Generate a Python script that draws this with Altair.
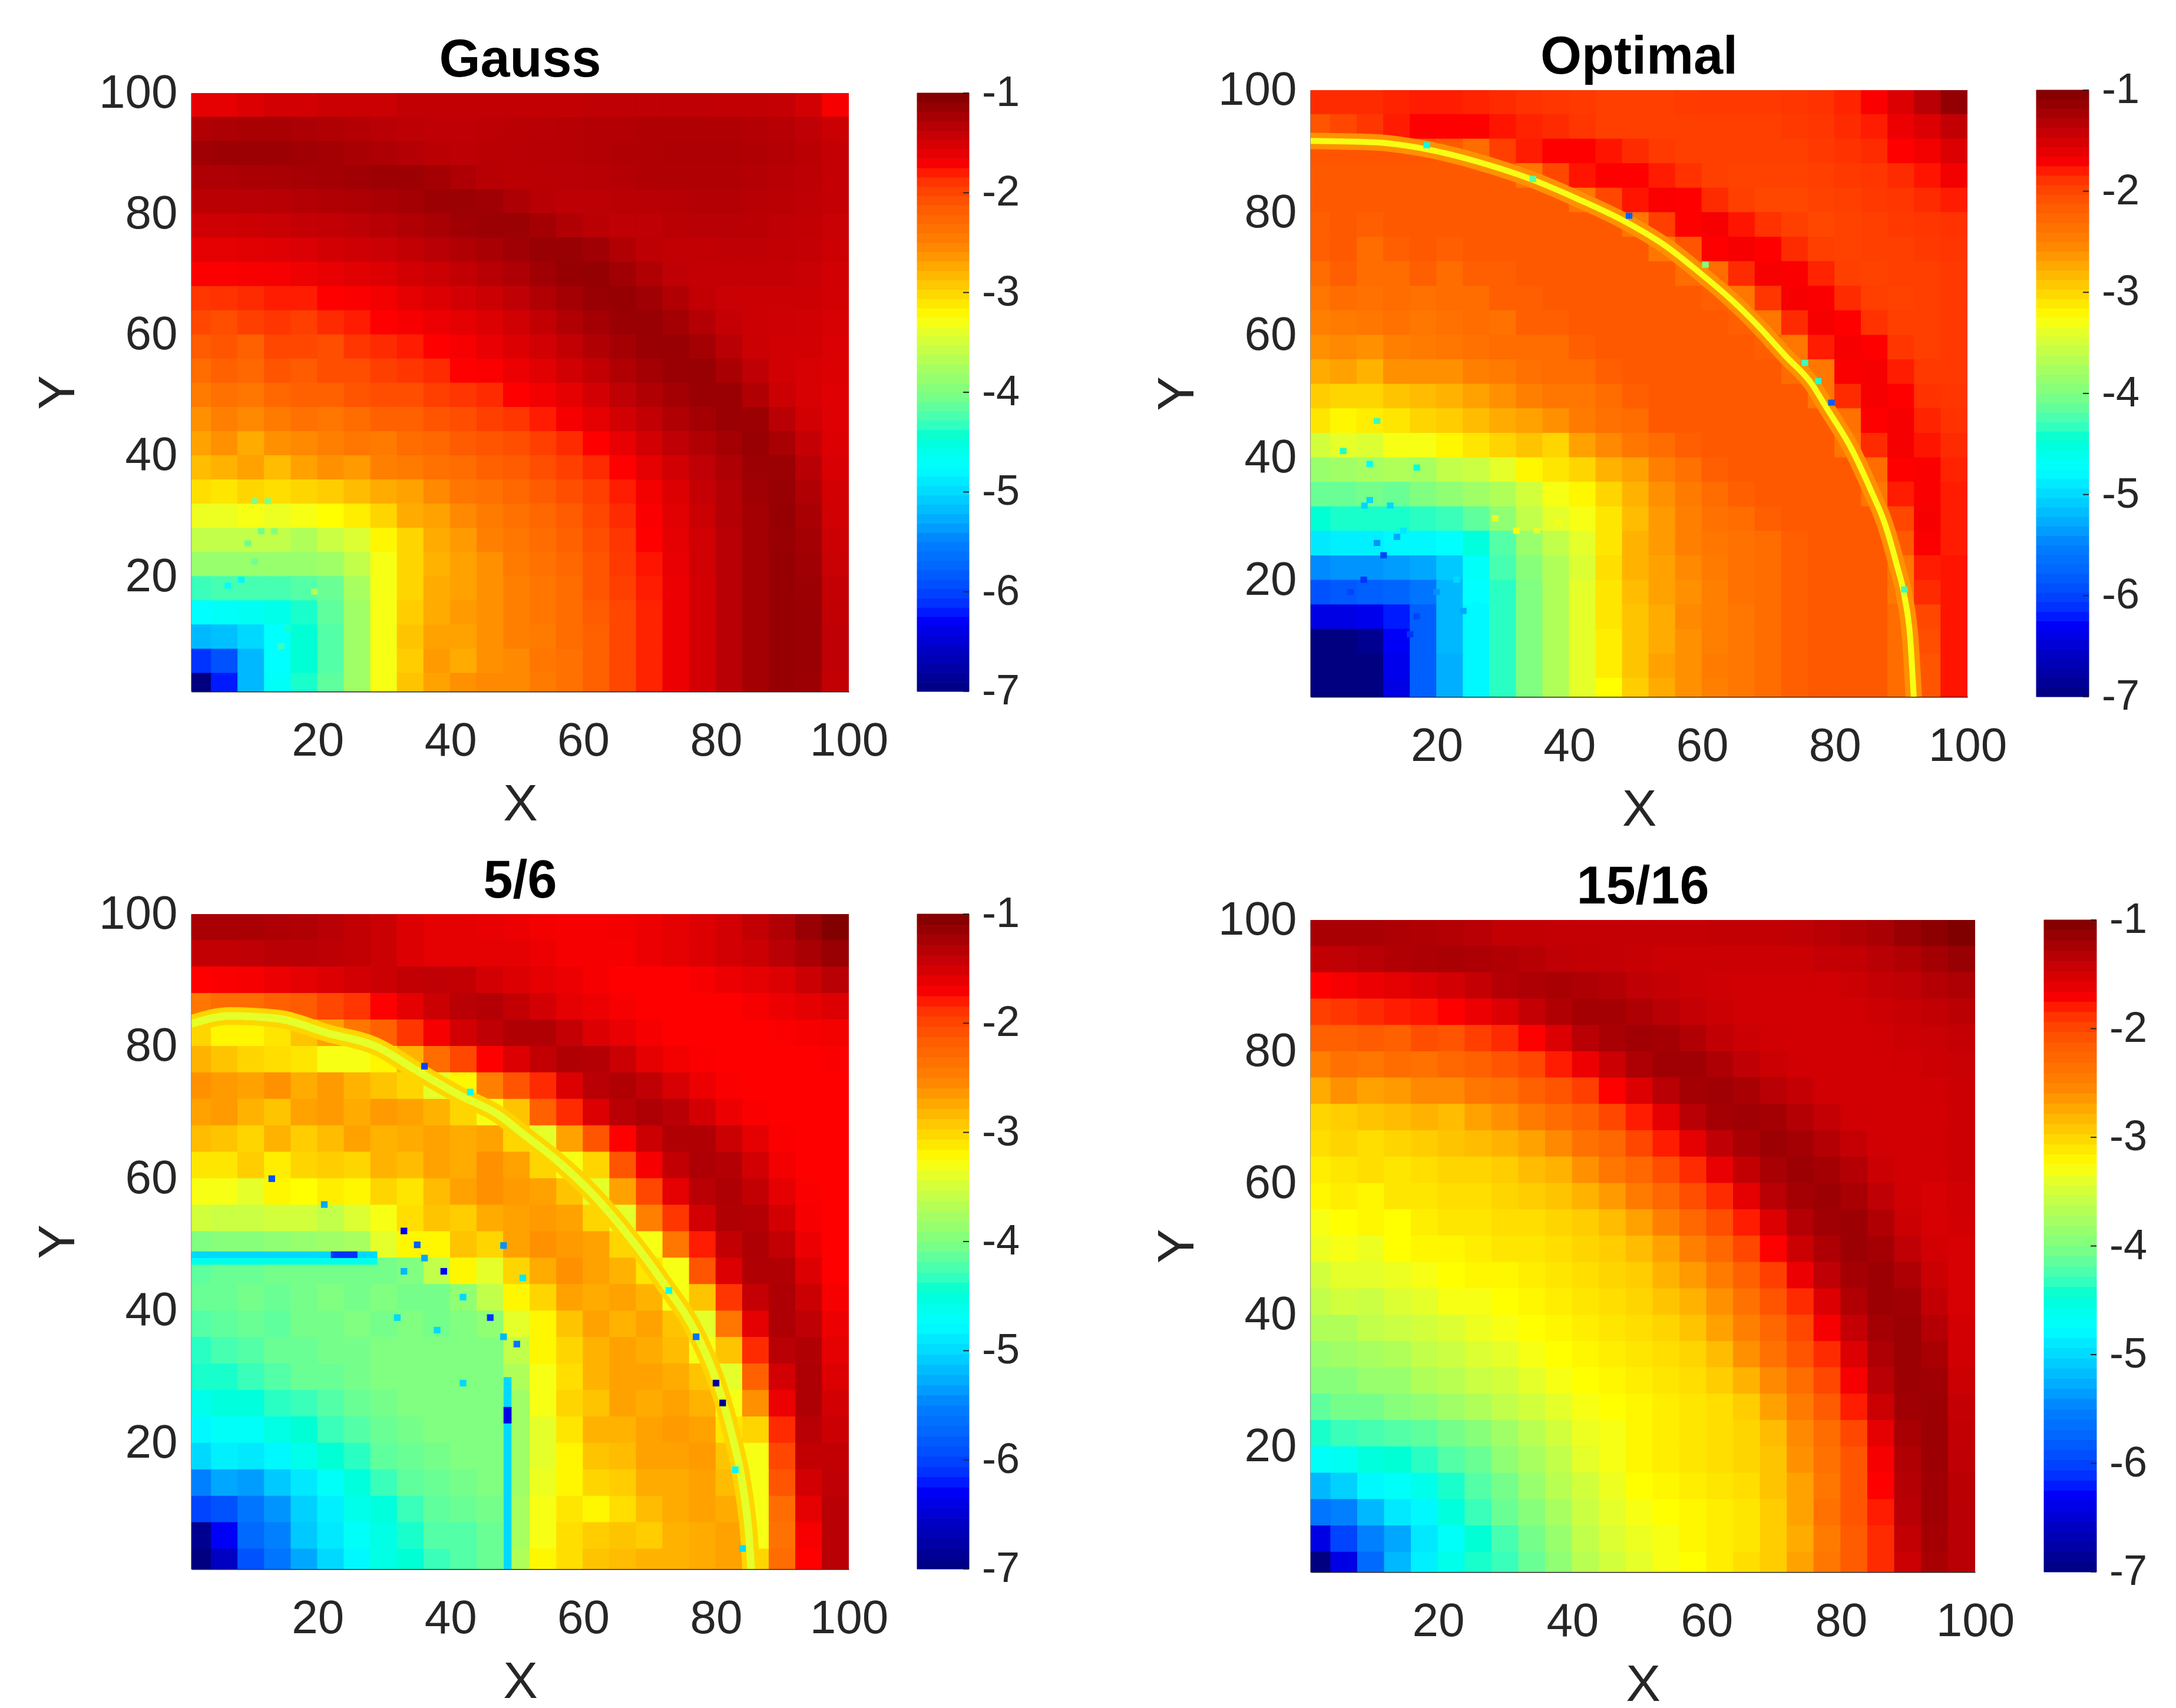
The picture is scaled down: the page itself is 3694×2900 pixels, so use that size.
import altair as alt
import pandas as pd

CBAR_TICKS = [-7, -6, -5, -4, -3, -2, -1]
CBAR_LABELS = ["-7", "-6", "-5", "-4", "-3", "-2", "-1"]
JET_DOMAIN = [-7, -6.25, -5.5, -4.75, -4, -3.25, -2.5, -1.75, -1]
JET_COLORS = ["#000080", "#0000ff", "#0080ff", "#00ffff", "#80ff80", "#ffff00", "#ff8000", "#ff0000", "#800000"]
CELL_LEFT = [0, 4, 8, 12, 16, 20, 24, 28, 32, 36, 40, 44, 48, 52, 56, 60, 64, 68, 72, 76, 80, 84, 88, 92, 96]
ROW_BOTTOM = [96, 92, 88, 84, 80, 76, 72, 68, 64, 60, 56, 52, 48, 44, 40, 36, 32, 28, 24, 20, 16, 12, 8, 4, 0]

GAUSS = [
[-1.6,-1.6,-1.55,-1.5,-1.5,-1.45,-1.45,-1.45,-1.4,-1.4,-1.4,-1.4,-1.4,-1.4,-1.4,-1.38,-1.38,-1.38,-1.38,-1.38,-1.4,-1.4,-1.42,-1.5,-1.7],
[-1.3,-1.27,-1.25,-1.25,-1.27,-1.3,-1.32,-1.35,-1.37,-1.38,-1.38,-1.37,-1.36,-1.35,-1.33,-1.32,-1.32,-1.3,-1.3,-1.3,-1.3,-1.32,-1.34,-1.38,-1.45],
[-1.2,-1.18,-1.18,-1.18,-1.2,-1.22,-1.25,-1.28,-1.32,-1.36,-1.37,-1.36,-1.35,-1.34,-1.33,-1.32,-1.3,-1.3,-1.28,-1.28,-1.28,-1.3,-1.32,-1.36,-1.42],
[-1.28,-1.28,-1.26,-1.25,-1.24,-1.22,-1.2,-1.18,-1.18,-1.22,-1.28,-1.34,-1.36,-1.36,-1.35,-1.34,-1.32,-1.3,-1.3,-1.3,-1.3,-1.32,-1.34,-1.37,-1.42],
[-1.36,-1.36,-1.35,-1.34,-1.32,-1.3,-1.28,-1.25,-1.22,-1.18,-1.17,-1.2,-1.27,-1.34,-1.37,-1.37,-1.36,-1.35,-1.33,-1.32,-1.32,-1.34,-1.36,-1.38,-1.42],
[-1.47,-1.47,-1.46,-1.44,-1.42,-1.4,-1.37,-1.34,-1.3,-1.25,-1.2,-1.17,-1.17,-1.22,-1.3,-1.36,-1.38,-1.38,-1.36,-1.35,-1.35,-1.36,-1.38,-1.4,-1.44],
[-1.6,-1.6,-1.58,-1.56,-1.54,-1.5,-1.47,-1.44,-1.4,-1.35,-1.3,-1.25,-1.2,-1.15,-1.15,-1.2,-1.3,-1.37,-1.4,-1.4,-1.38,-1.38,-1.4,-1.42,-1.46],
[-1.72,-1.72,-1.7,-1.7,-1.66,-1.62,-1.58,-1.55,-1.5,-1.45,-1.4,-1.34,-1.28,-1.2,-1.14,-1.13,-1.2,-1.3,-1.38,-1.42,-1.42,-1.42,-1.42,-1.44,-1.48],
[-1.9,-1.88,-1.85,-1.8,-1.8,-1.75,-1.72,-1.68,-1.6,-1.55,-1.5,-1.45,-1.38,-1.3,-1.22,-1.15,-1.14,-1.2,-1.3,-1.4,-1.44,-1.45,-1.45,-1.46,-1.5],
[-2.0,-2.05,-1.95,-1.9,-1.95,-1.85,-1.8,-1.75,-1.7,-1.65,-1.6,-1.55,-1.48,-1.4,-1.3,-1.22,-1.16,-1.15,-1.22,-1.32,-1.42,-1.46,-1.47,-1.48,-1.52],
[-2.15,-2.1,-2.2,-2.0,-2.0,-2.05,-1.9,-1.85,-1.8,-1.75,-1.7,-1.62,-1.55,-1.48,-1.4,-1.3,-1.22,-1.16,-1.15,-1.22,-1.35,-1.45,-1.48,-1.5,-1.54],
[-2.3,-2.2,-2.25,-2.1,-2.15,-2.05,-2.05,-1.95,-1.9,-1.85,-1.75,-1.72,-1.65,-1.58,-1.48,-1.4,-1.3,-1.22,-1.16,-1.15,-1.25,-1.38,-1.48,-1.52,-1.55],
[-2.45,-2.35,-2.4,-2.25,-2.2,-2.2,-2.1,-2.05,-2.05,-1.95,-1.9,-1.85,-1.75,-1.68,-1.6,-1.5,-1.38,-1.3,-1.22,-1.16,-1.16,-1.3,-1.45,-1.52,-1.56],
[-2.6,-2.5,-2.55,-2.45,-2.35,-2.4,-2.3,-2.2,-2.2,-2.1,-2.05,-1.95,-1.9,-1.8,-1.7,-1.6,-1.5,-1.4,-1.3,-1.22,-1.16,-1.18,-1.35,-1.48,-1.56],
[-2.7,-2.6,-2.75,-2.6,-2.55,-2.5,-2.4,-2.45,-2.3,-2.25,-2.15,-2.1,-2.05,-1.95,-1.85,-1.75,-1.62,-1.5,-1.38,-1.3,-1.22,-1.15,-1.25,-1.42,-1.55],
[-2.85,-2.8,-2.7,-2.85,-2.7,-2.6,-2.65,-2.5,-2.45,-2.35,-2.3,-2.2,-2.15,-2.05,-1.95,-1.85,-1.75,-1.6,-1.48,-1.38,-1.28,-1.18,-1.17,-1.35,-1.53],
[-3.05,-3.1,-3.0,-3.05,-3.0,-2.95,-2.85,-2.75,-2.7,-2.55,-2.4,-2.35,-2.25,-2.15,-2.05,-1.95,-1.8,-1.68,-1.55,-1.42,-1.32,-1.2,-1.15,-1.3,-1.5],
[-3.35,-3.35,-3.3,-3.35,-3.3,-3.25,-3.15,-3.0,-2.75,-2.7,-2.55,-2.45,-2.35,-2.25,-2.15,-2.0,-1.85,-1.72,-1.58,-1.45,-1.32,-1.22,-1.14,-1.25,-1.48],
[-3.6,-3.6,-3.6,-3.6,-3.7,-3.55,-3.45,-3.2,-3.0,-2.75,-2.65,-2.5,-2.4,-2.3,-2.2,-2.05,-1.9,-1.75,-1.6,-1.48,-1.35,-1.22,-1.15,-1.22,-1.46],
[-3.85,-3.85,-3.85,-3.85,-3.85,-3.8,-3.6,-3.3,-3.0,-2.8,-2.7,-2.6,-2.45,-2.35,-2.25,-2.1,-1.92,-1.78,-1.62,-1.48,-1.35,-1.22,-1.14,-1.2,-1.44],
[-4.3,-4.25,-4.25,-4.25,-4.2,-4.1,-3.75,-3.3,-3.0,-2.75,-2.7,-2.6,-2.5,-2.4,-2.3,-2.1,-1.95,-1.8,-1.65,-1.5,-1.35,-1.22,-1.14,-1.18,-1.42],
[-4.75,-4.7,-4.65,-4.6,-4.4,-4.15,-3.8,-3.3,-2.95,-2.75,-2.65,-2.6,-2.5,-2.4,-2.3,-2.15,-2.0,-1.82,-1.65,-1.5,-1.35,-1.22,-1.14,-1.16,-1.4],
[-5.2,-5.15,-5.0,-4.75,-4.45,-4.2,-3.8,-3.3,-2.9,-2.7,-2.7,-2.6,-2.5,-2.45,-2.3,-2.2,-2.0,-1.82,-1.65,-1.5,-1.35,-1.22,-1.14,-1.16,-1.38],
[-6.1,-5.9,-5.2,-4.75,-4.45,-4.2,-3.8,-3.3,-2.95,-2.65,-2.75,-2.6,-2.55,-2.4,-2.35,-2.2,-2.0,-1.82,-1.65,-1.5,-1.35,-1.22,-1.14,-1.16,-1.38],
[-7.0,-6.2,-5.2,-4.7,-4.4,-4.15,-3.8,-3.3,-2.9,-2.7,-2.6,-2.55,-2.55,-2.45,-2.35,-2.2,-2.0,-1.82,-1.65,-1.5,-1.35,-1.22,-1.14,-1.18,-1.4],
]

OPTIMAL = [
[-1.85,-1.85,-1.85,-1.82,-1.8,-1.8,-1.82,-1.85,-1.88,-1.9,-1.92,-1.95,-1.95,-1.95,-1.93,-1.92,-1.92,-1.92,-1.9,-1.88,-1.82,-1.72,-1.55,-1.35,-1.12],
[-2.1,-2.0,-1.9,-1.8,-1.75,-1.75,-1.75,-1.78,-1.82,-1.85,-1.9,-1.95,-1.95,-1.95,-1.95,-1.95,-1.95,-1.95,-1.92,-1.9,-1.85,-1.8,-1.65,-1.55,-1.4],
[-2.1,-2.1,-2.1,-2.1,-2.1,-2.13,-2.3,-1.95,-1.8,-1.75,-1.75,-1.78,-1.85,-1.92,-1.95,-1.95,-1.95,-1.95,-1.95,-1.92,-1.88,-1.85,-1.75,-1.68,-1.55],
[-2.13,-2.13,-2.13,-2.13,-2.13,-2.13,-2.13,-2.13,-2.4,-2.0,-1.78,-1.75,-1.75,-1.8,-1.88,-1.95,-1.97,-1.97,-1.97,-1.95,-1.92,-1.9,-1.85,-1.78,-1.68],
[-2.13,-2.13,-2.13,-2.13,-2.13,-2.13,-2.13,-2.13,-2.13,-2.13,-2.4,-2.0,-1.78,-1.72,-1.75,-1.85,-1.95,-2.0,-2.0,-1.97,-1.95,-1.92,-1.9,-1.85,-1.8],
[-2.18,-2.13,-2.18,-2.13,-2.13,-2.13,-2.13,-2.13,-2.13,-2.13,-2.13,-2.13,-2.4,-1.95,-1.75,-1.7,-1.78,-1.88,-1.95,-2.0,-1.97,-1.95,-1.92,-1.9,-1.88],
[-2.18,-2.13,-2.3,-2.18,-2.13,-2.18,-2.13,-2.13,-2.13,-2.13,-2.13,-2.13,-2.13,-2.4,-2.1,-1.75,-1.7,-1.75,-1.85,-1.95,-1.97,-1.95,-1.95,-1.92,-1.9],
[-2.3,-2.18,-2.3,-2.3,-2.18,-2.3,-2.18,-2.18,-2.13,-2.13,-2.13,-2.13,-2.13,-2.13,-2.3,-2.3,-1.85,-1.7,-1.72,-1.82,-1.95,-1.97,-1.95,-1.95,-1.92],
[-2.4,-2.3,-2.35,-2.3,-2.35,-2.3,-2.3,-2.18,-2.18,-2.13,-2.13,-2.13,-2.13,-2.13,-2.13,-2.18,-2.4,-1.9,-1.7,-1.72,-1.85,-1.95,-1.97,-1.95,-1.92],
[-2.5,-2.45,-2.4,-2.35,-2.4,-2.35,-2.3,-2.35,-2.18,-2.18,-2.13,-2.13,-2.13,-2.13,-2.13,-2.13,-2.18,-2.4,-1.85,-1.7,-1.75,-1.88,-1.95,-1.95,-1.92],
[-2.6,-2.55,-2.6,-2.5,-2.45,-2.4,-2.35,-2.3,-2.3,-2.3,-2.18,-2.13,-2.13,-2.13,-2.13,-2.13,-2.13,-2.18,-2.4,-1.8,-1.7,-1.75,-1.9,-1.95,-1.92],
[-2.75,-2.7,-2.8,-2.6,-2.6,-2.6,-2.5,-2.45,-2.35,-2.3,-2.3,-2.18,-2.13,-2.13,-2.13,-2.13,-2.13,-2.13,-2.3,-2.4,-1.72,-1.7,-1.8,-1.92,-1.92],
[-2.95,-3.0,-3.0,-2.9,-2.85,-2.8,-2.7,-2.6,-2.5,-2.4,-2.4,-2.3,-2.18,-2.13,-2.13,-2.13,-2.13,-2.13,-2.13,-2.4,-1.85,-1.7,-1.75,-1.88,-1.9],
[-3.1,-3.2,-3.15,-3.1,-3.0,-2.95,-2.85,-2.75,-2.7,-2.6,-2.45,-2.35,-2.3,-2.13,-2.13,-2.13,-2.13,-2.13,-2.13,-2.13,-2.35,-1.75,-1.7,-1.82,-1.88],
[-3.5,-3.4,-3.45,-3.3,-3.3,-3.2,-3.1,-3.0,-2.9,-3.0,-2.7,-2.55,-2.4,-2.3,-2.18,-2.13,-2.13,-2.13,-2.13,-2.13,-2.4,-1.85,-1.7,-1.78,-1.85],
[-3.85,-3.8,-3.75,-3.7,-3.75,-3.6,-3.55,-3.4,-3.2,-3.1,-3.0,-2.8,-2.7,-2.5,-2.35,-2.18,-2.13,-2.13,-2.13,-2.13,-2.13,-2.3,-1.75,-1.72,-1.82],
[-4.1,-4.1,-4.05,-4.1,-4.0,-3.9,-3.8,-3.7,-3.5,-3.3,-3.2,-3.0,-2.8,-2.6,-2.45,-2.3,-2.18,-2.13,-2.13,-2.13,-2.13,-2.4,-1.8,-1.72,-1.8],
[-4.45,-4.4,-4.4,-4.4,-4.35,-4.3,-4.15,-3.9,-3.6,-3.4,-3.3,-3.1,-2.85,-2.65,-2.5,-2.35,-2.3,-2.18,-2.13,-2.13,-2.13,-2.13,-2.0,-1.7,-1.8],
[-4.9,-4.85,-4.85,-4.8,-4.8,-4.75,-4.5,-4.2,-3.85,-3.6,-3.4,-3.1,-2.8,-2.65,-2.5,-2.4,-2.35,-2.3,-2.18,-2.13,-2.13,-2.13,-2.13,-1.72,-1.8],
[-5.45,-5.4,-5.4,-5.35,-5.3,-5.1,-4.7,-4.25,-3.95,-3.7,-3.45,-3.05,-2.8,-2.7,-2.55,-2.45,-2.35,-2.3,-2.18,-2.13,-2.13,-2.13,-2.4,-1.8,-1.78],
[-5.9,-5.85,-5.8,-5.75,-5.6,-5.2,-4.75,-4.35,-4.0,-3.7,-3.4,-3.1,-2.85,-2.7,-2.6,-2.5,-2.35,-2.3,-2.18,-2.13,-2.13,-2.13,-2.4,-1.85,-1.78],
[-6.4,-6.4,-6.35,-6.2,-5.8,-5.2,-4.8,-4.35,-4.0,-3.7,-3.4,-3.1,-2.9,-2.75,-2.55,-2.5,-2.4,-2.3,-2.18,-2.13,-2.13,-2.13,-2.3,-2.0,-1.78],
[-7.0,-7.0,-6.9,-6.3,-5.8,-5.2,-4.8,-4.35,-4.0,-3.7,-3.4,-3.15,-2.9,-2.75,-2.6,-2.5,-2.4,-2.3,-2.18,-2.13,-2.13,-2.13,-2.3,-2.05,-1.78],
[-7.0,-7.0,-7.0,-6.35,-5.8,-5.25,-4.8,-4.35,-4.0,-3.7,-3.4,-3.15,-2.9,-2.7,-2.6,-2.45,-2.4,-2.3,-2.18,-2.13,-2.13,-2.13,-2.3,-2.1,-1.78],
[-7.0,-7.0,-7.0,-6.4,-5.8,-5.25,-4.8,-4.35,-4.0,-3.7,-3.4,-3.25,-2.95,-2.75,-2.6,-2.5,-2.4,-2.3,-2.18,-2.13,-2.13,-2.13,-2.3,-2.1,-1.78],
]

FIVE_SIX = [
[-1.25,-1.25,-1.25,-1.28,-1.3,-1.35,-1.4,-1.45,-1.55,-1.6,-1.6,-1.62,-1.65,-1.68,-1.7,-1.7,-1.68,-1.65,-1.6,-1.55,-1.5,-1.4,-1.3,-1.15,-1.02],
[-1.4,-1.4,-1.38,-1.35,-1.35,-1.37,-1.4,-1.45,-1.55,-1.6,-1.6,-1.6,-1.6,-1.65,-1.7,-1.7,-1.7,-1.65,-1.6,-1.55,-1.5,-1.45,-1.35,-1.25,-1.15],
[-1.75,-1.72,-1.7,-1.65,-1.6,-1.55,-1.5,-1.45,-1.4,-1.38,-1.4,-1.5,-1.55,-1.6,-1.65,-1.7,-1.75,-1.75,-1.75,-1.7,-1.65,-1.6,-1.55,-1.45,-1.35],
[-2.4,-2.3,-2.3,-2.2,-2.15,-2.0,-1.9,-1.75,-1.6,-1.45,-1.35,-1.32,-1.4,-1.5,-1.6,-1.65,-1.7,-1.75,-1.75,-1.75,-1.75,-1.7,-1.65,-1.6,-1.55],
[-3.0,-3.2,-3.2,-3.1,-2.9,-2.7,-2.4,-2.2,-1.9,-1.7,-1.5,-1.38,-1.3,-1.3,-1.42,-1.55,-1.62,-1.7,-1.75,-1.75,-1.75,-1.75,-1.72,-1.7,-1.68],
[-2.8,-2.9,-3.0,-3.05,-3.1,-3.3,-3.3,-3.2,-2.8,-2.3,-2.0,-1.75,-1.55,-1.4,-1.3,-1.32,-1.45,-1.6,-1.68,-1.72,-1.75,-1.75,-1.75,-1.75,-1.72],
[-2.6,-2.65,-2.7,-2.6,-2.75,-2.65,-2.8,-2.9,-3.0,-3.4,-3.2,-2.5,-2.1,-1.85,-1.55,-1.35,-1.3,-1.38,-1.52,-1.65,-1.72,-1.75,-1.75,-1.75,-1.75],
[-2.7,-2.65,-2.8,-2.9,-2.7,-2.65,-2.75,-2.65,-2.7,-2.8,-3.0,-3.3,-2.9,-2.2,-1.85,-1.55,-1.35,-1.28,-1.35,-1.5,-1.65,-1.72,-1.75,-1.75,-1.75],
[-2.85,-2.9,-3.0,-2.8,-2.95,-2.85,-2.7,-2.8,-2.75,-2.7,-2.75,-2.7,-3.0,-3.4,-2.7,-2.1,-1.75,-1.45,-1.3,-1.3,-1.45,-1.6,-1.72,-1.75,-1.75],
[-3.1,-3.1,-2.95,-3.15,-3.0,-2.95,-3.0,-2.8,-2.85,-2.7,-2.75,-2.6,-2.7,-3.0,-3.3,-3.0,-2.1,-1.7,-1.4,-1.28,-1.32,-1.5,-1.68,-1.75,-1.75],
[-3.3,-3.3,-3.4,-3.2,-3.25,-3.15,-3.2,-3.0,-3.1,-2.85,-2.7,-2.6,-2.65,-2.7,-2.9,-3.4,-2.7,-2.0,-1.6,-1.35,-1.28,-1.4,-1.6,-1.72,-1.75],
[-3.5,-3.55,-3.55,-3.5,-3.5,-3.6,-3.45,-3.3,-3.05,-2.9,-2.95,-2.75,-2.7,-2.65,-2.7,-3.0,-3.4,-2.5,-1.9,-1.5,-1.3,-1.32,-1.5,-1.7,-1.75],
[-4.0,-3.95,-3.95,-3.9,-3.85,-3.8,-3.75,-3.4,-3.2,-3.2,-2.9,-3.0,-2.7,-2.6,-2.65,-2.7,-3.0,-3.3,-2.4,-1.8,-1.4,-1.28,-1.4,-1.65,-1.75],
[-4.15,-4.1,-4.1,-4.05,-4.05,-4.05,-4.05,-4.05,-4.0,-3.6,-3.2,-3.4,-3.0,-2.75,-2.6,-2.7,-2.8,-3.1,-3.3,-2.1,-1.55,-1.3,-1.3,-1.55,-1.75],
[-4.1,-4.1,-4.05,-4.1,-4.05,-4.0,-4.05,-4.0,-4.05,-4.05,-3.9,-3.6,-3.2,-3.0,-2.7,-2.75,-2.7,-2.8,-3.3,-2.9,-1.9,-1.42,-1.28,-1.45,-1.7],
[-4.2,-4.15,-4.1,-4.15,-4.05,-4.05,-4.0,-4.05,-4.0,-4.05,-4.0,-3.9,-3.4,-3.2,-2.9,-2.7,-2.8,-2.7,-2.9,-3.4,-2.4,-1.6,-1.28,-1.38,-1.65],
[-4.35,-4.25,-4.2,-4.1,-4.1,-4.05,-4.05,-4.0,-4.0,-4.0,-4.0,-4.0,-3.6,-3.2,-3.0,-2.8,-2.7,-2.75,-2.85,-3.3,-2.9,-1.85,-1.35,-1.3,-1.6],
[-4.4,-4.4,-4.3,-4.2,-4.1,-4.1,-4.05,-4.0,-4.0,-4.0,-4.0,-4.0,-3.7,-3.3,-3.05,-2.8,-2.7,-2.7,-2.75,-2.9,-3.4,-2.2,-1.5,-1.28,-1.55],
[-4.6,-4.5,-4.5,-4.35,-4.3,-4.2,-4.1,-4.05,-4.0,-4.0,-4.0,-4.0,-3.8,-3.3,-3.0,-2.9,-2.7,-2.75,-2.7,-2.8,-3.3,-2.6,-1.65,-1.28,-1.5],
[-4.8,-4.7,-4.7,-4.55,-4.45,-4.3,-4.2,-4.1,-4.05,-4.0,-4.0,-4.0,-3.8,-3.4,-3.1,-2.8,-2.8,-2.7,-2.65,-2.7,-3.1,-3.0,-1.85,-1.35,-1.45],
[-5.0,-4.85,-4.9,-4.8,-4.6,-4.45,-4.35,-4.15,-4.1,-4.05,-4.0,-4.0,-3.8,-3.4,-3.2,-2.9,-2.85,-2.7,-2.7,-2.65,-2.9,-3.3,-2.0,-1.4,-1.4],
[-5.5,-5.3,-5.35,-5.1,-4.9,-4.7,-4.5,-4.3,-4.15,-4.1,-4.05,-4.0,-3.8,-3.35,-3.2,-3.0,-2.95,-2.75,-2.75,-2.7,-2.85,-3.3,-2.1,-1.5,-1.38],
[-6.0,-5.9,-5.6,-5.4,-5.05,-4.85,-4.6,-4.5,-4.3,-4.15,-4.1,-4.05,-3.75,-3.3,-3.1,-3.2,-3.05,-2.85,-2.75,-2.7,-2.75,-3.3,-2.3,-1.6,-1.35],
[-6.9,-6.3,-5.7,-5.5,-5.1,-4.9,-4.7,-4.55,-4.4,-4.2,-4.2,-4.1,-3.75,-3.3,-3.05,-2.95,-2.9,-2.95,-2.8,-2.75,-2.7,-3.3,-2.35,-1.7,-1.35],
[-7.0,-6.6,-5.9,-5.6,-5.3,-5.0,-4.8,-4.55,-4.45,-4.3,-4.2,-4.1,-3.7,-3.2,-3.05,-2.9,-2.85,-2.8,-2.8,-2.75,-2.7,-3.0,-2.3,-1.75,-1.35],
]

FIFTEEN_SIXTEEN = [
[-1.25,-1.25,-1.25,-1.28,-1.3,-1.32,-1.35,-1.4,-1.4,-1.42,-1.42,-1.42,-1.42,-1.42,-1.42,-1.4,-1.4,-1.4,-1.38,-1.35,-1.3,-1.25,-1.15,-1.08,-1.0],
[-1.4,-1.38,-1.35,-1.3,-1.27,-1.25,-1.27,-1.3,-1.33,-1.38,-1.4,-1.42,-1.43,-1.45,-1.45,-1.45,-1.45,-1.45,-1.45,-1.42,-1.4,-1.35,-1.3,-1.22,-1.15],
[-1.75,-1.7,-1.65,-1.6,-1.55,-1.5,-1.42,-1.32,-1.28,-1.25,-1.28,-1.32,-1.38,-1.42,-1.45,-1.47,-1.48,-1.48,-1.48,-1.48,-1.45,-1.42,-1.38,-1.32,-1.28],
[-1.95,-1.9,-1.85,-1.8,-1.78,-1.75,-1.65,-1.55,-1.42,-1.3,-1.22,-1.22,-1.28,-1.35,-1.42,-1.45,-1.48,-1.5,-1.5,-1.5,-1.48,-1.46,-1.43,-1.4,-1.36],
[-2.2,-2.2,-2.15,-2.2,-2.05,-2.1,-1.95,-1.85,-1.75,-1.55,-1.35,-1.25,-1.2,-1.22,-1.3,-1.4,-1.45,-1.48,-1.5,-1.5,-1.5,-1.48,-1.46,-1.44,-1.42],
[-2.5,-2.35,-2.4,-2.3,-2.35,-2.25,-2.2,-2.1,-2.0,-1.8,-1.65,-1.45,-1.28,-1.2,-1.2,-1.28,-1.38,-1.45,-1.48,-1.5,-1.5,-1.5,-1.48,-1.46,-1.44],
[-2.75,-2.6,-2.7,-2.65,-2.55,-2.55,-2.4,-2.35,-2.2,-2.1,-1.95,-1.75,-1.55,-1.35,-1.22,-1.2,-1.25,-1.35,-1.42,-1.48,-1.5,-1.5,-1.5,-1.48,-1.46],
[-3.0,-2.95,-2.9,-2.85,-2.8,-2.85,-2.7,-2.6,-2.45,-2.3,-2.2,-2.0,-1.8,-1.6,-1.35,-1.22,-1.2,-1.22,-1.32,-1.42,-1.48,-1.5,-1.5,-1.5,-1.46],
[-3.05,-3.0,-3.05,-3.0,-2.95,-2.9,-2.85,-2.8,-2.7,-2.55,-2.35,-2.25,-2.0,-1.8,-1.6,-1.38,-1.25,-1.18,-1.22,-1.32,-1.42,-1.48,-1.5,-1.48,-1.46],
[-3.15,-3.1,-3.05,-3.1,-3.05,-3.0,-3.0,-2.95,-2.85,-2.8,-2.6,-2.4,-2.25,-2.05,-1.85,-1.62,-1.4,-1.25,-1.18,-1.22,-1.32,-1.45,-1.5,-1.5,-1.46],
[-3.2,-3.15,-3.2,-3.1,-3.1,-3.05,-3.05,-3.0,-2.95,-2.9,-2.8,-2.65,-2.45,-2.25,-2.05,-1.85,-1.6,-1.35,-1.22,-1.18,-1.25,-1.38,-1.48,-1.52,-1.48],
[-3.3,-3.25,-3.2,-3.25,-3.15,-3.1,-3.1,-3.05,-3.05,-3.0,-2.95,-2.85,-2.7,-2.5,-2.25,-2.05,-1.8,-1.55,-1.32,-1.2,-1.18,-1.3,-1.45,-1.52,-1.5],
[-3.35,-3.3,-3.35,-3.25,-3.2,-3.2,-3.15,-3.1,-3.1,-3.05,-3.0,-2.95,-2.85,-2.7,-2.5,-2.25,-2.0,-1.75,-1.45,-1.28,-1.18,-1.22,-1.38,-1.5,-1.52],
[-3.5,-3.4,-3.4,-3.35,-3.3,-3.25,-3.2,-3.2,-3.15,-3.1,-3.05,-3.0,-2.95,-2.8,-2.65,-2.45,-2.2,-1.95,-1.65,-1.38,-1.22,-1.18,-1.28,-1.45,-1.52],
[-3.6,-3.5,-3.55,-3.45,-3.4,-3.3,-3.3,-3.25,-3.2,-3.15,-3.1,-3.05,-3.0,-2.9,-2.8,-2.6,-2.35,-2.1,-1.85,-1.55,-1.3,-1.18,-1.2,-1.4,-1.52],
[-3.7,-3.7,-3.6,-3.55,-3.5,-3.45,-3.35,-3.3,-3.25,-3.2,-3.15,-3.1,-3.05,-3.0,-2.9,-2.7,-2.5,-2.25,-2.0,-1.7,-1.42,-1.22,-1.17,-1.32,-1.5],
[-3.85,-3.8,-3.75,-3.7,-3.6,-3.55,-3.45,-3.4,-3.3,-3.25,-3.2,-3.15,-3.1,-3.05,-3.0,-2.85,-2.6,-2.35,-2.1,-1.85,-1.55,-1.28,-1.17,-1.25,-1.48],
[-3.95,-3.95,-3.85,-3.85,-3.7,-3.65,-3.55,-3.5,-3.4,-3.3,-3.25,-3.2,-3.15,-3.1,-3.05,-2.95,-2.8,-2.55,-2.3,-2.0,-1.7,-1.35,-1.18,-1.2,-1.45],
[-4.15,-4.05,-4.05,-3.95,-3.9,-3.8,-3.7,-3.6,-3.5,-3.4,-3.3,-3.25,-3.2,-3.15,-3.1,-3.05,-2.95,-2.7,-2.45,-2.15,-1.8,-1.45,-1.2,-1.18,-1.42],
[-4.4,-4.3,-4.25,-4.2,-4.15,-4.05,-3.95,-3.8,-3.65,-3.5,-3.35,-3.3,-3.2,-3.15,-3.1,-3.05,-3.0,-2.85,-2.55,-2.3,-2.0,-1.6,-1.25,-1.17,-1.4],
[-4.7,-4.65,-4.5,-4.45,-4.35,-4.2,-4.1,-3.9,-3.75,-3.6,-3.4,-3.3,-3.2,-3.15,-3.1,-3.05,-3.0,-2.9,-2.6,-2.35,-2.1,-1.7,-1.3,-1.18,-1.38],
[-5.2,-5.05,-4.8,-4.7,-4.6,-4.4,-4.2,-4.05,-3.85,-3.65,-3.5,-3.35,-3.25,-3.2,-3.15,-3.1,-3.05,-2.9,-2.7,-2.4,-2.1,-1.75,-1.32,-1.2,-1.36],
[-5.6,-5.5,-5.2,-4.9,-4.8,-4.5,-4.3,-4.1,-3.95,-3.75,-3.55,-3.4,-3.3,-3.25,-3.2,-3.15,-3.1,-2.95,-2.7,-2.35,-2.1,-1.8,-1.35,-1.2,-1.35],
[-6.4,-6.0,-5.5,-5.3,-4.9,-4.7,-4.45,-4.25,-4.05,-3.85,-3.6,-3.45,-3.35,-3.3,-3.2,-3.15,-3.1,-2.95,-2.75,-2.45,-2.15,-1.85,-1.4,-1.22,-1.35],
[-7.0,-6.4,-5.7,-5.2,-4.85,-4.6,-4.4,-4.3,-4.1,-3.9,-3.65,-3.5,-3.4,-3.3,-3.25,-3.15,-3.05,-2.95,-2.7,-2.4,-2.15,-1.85,-1.45,-1.25,-1.35],
]

# thin curved band in the "Optimal" panel
OPT_ARC_X = [1, 10.5, 17.8, 26.2, 34.6, 40.9, 48.3, 54.6, 59.3, 64.6, 68.8, 72.5, 76.7, 78.5, 82.5, 85.6, 87.5, 89.3, 90.5, 91.4, 91.9]
OPT_ARC_Y = [91.7, 91.5, 90.5, 88.3, 85.3, 82.4, 78.6, 74.5, 70.5, 65.6, 61.1, 56.7, 51.8, 48.6, 41.5, 34.3, 29.4, 22.7, 17.4, 10.2, 1]
# rim in the "5/6" panel
RIM_X = [1, 6.8, 14, 21.5, 28.8, 35, 41.4, 47.2, 50.9, 56.1, 61.4, 66.7, 71.9, 77.2, 80.3, 82.4, 84, 85, 85.3]
RIM_Y = [83.4, 84.6, 84.2, 82, 80, 76.3, 72.6, 69.7, 66.8, 62.7, 57.7, 51.5, 44.5, 36.2, 28.7, 21.3, 13.8, 5.6, 1]

# isolated single cells: (x, y, value)
OPT_SPECKS = [(48.5,79,-5.8),(79,48.5,-5.8),(18,90.5,-4.6),(60,71,-4),(77,52,-4.4),(75,55,-4.3),(34,85,-4.2),(90,18,-4.3),
 (6.5,17.6,-6),(8.5,19.6,-6.1),(11.5,23.6,-6),(10.5,25.6,-5.4),(13.5,26.6,-5.3),(14.5,27.6,-4.9),(8.6,31.7,-5),(9.4,32.6,-5),
 (12.5,31.7,-5),(16.5,13.6,-6),(15.5,10.7,-6.1),(19.5,17.6,-5.4),(22.5,19.6,-5),(23.5,14.5,-5.3),(25.5,15.6,-4.8),(10.5,45.5,-4.3),
 (16.5,37.9,-4.5),(9.4,38.5,-4.7),(5.4,40.6,-4.4),(28.3,29.6,-3.4),(31.5,27.6,-3.3),(34.6,27.6,-3.4),(37.8,29,-3.3)]
FIVE_SPECKS = [(35.6,76.5,-6),(12.6,59.5,-5.9),(20.5,55.6,-5.3),(32.5,51.6,-6.3),(34.5,49.5,-5.8),(38.5,45.5,-6.3),(45.5,38.5,-6.1),
 (49.5,34.5,-5.6),(47.5,35.6,-5.2),(76.5,35.6,-5.6),(79.5,28.6,-6.8),(80.5,25.6,-6.9),(42.5,72.6,-4.6),(72.4,42.6,-4.6),(37.5,36.6,-5),
 (41.4,28.6,-5),(31.5,38.5,-5),(32.5,45.5,-5.2),(35.6,47.5,-5.3),(41.4,41.6,-5),(47.5,49.4,-5.4),(50.4,44.5,-4.9),(83.5,3.6,-5),(82.4,15.5,-4.8)]
GAUSS_SPECKS = [(8,19,-4.8),(6,18,-4.7),(10,32,-4),(12,32,-4),(11,27,-4.1),(13,27,-4),(9,25,-4.1),(10,22,-4.1),(15,11,-4.4),(14,8,-4.3),(19,17,-3.7)]
# thin straight streaks in the "5/6" panel: x, x2, y, y2, value
FIVE_STREAK_X = [0, 0, 22, 48, 48]
FIVE_STREAK_X2 = [29, 29, 26, 49.2, 49.2]
FIVE_STREAK_Y = [48, 47, 48, 0, 23]
FIVE_STREAK_Y2 = [49, 48, 49, 30, 25.5]
FIVE_STREAK_V = [-5.0, -4.6, -6.1, -5.0, -6.4]

AXIS_TICKS = [20, 40, 60, 80, 100]
LABEL_FONT = "Liberation Sans"
TEXT_COLOR = "#262626"

color_scale = alt.Scale(domain=JET_DOMAIN, range=JET_COLORS, clamp=True)
bar_scale = alt.Scale(domain=[-7, -1], nice=False, zero=False)
BAR_STEPS = 64
bar_df = pd.DataFrame({
    "lo": [-7 + 6 * i / BAR_STEPS for i in range(BAR_STEPS)],
    "hi": [-7 + 6 * (i + 1) / BAR_STEPS for i in range(BAR_STEPS)],
    "v": [-7 + 6 * (i + 0.5) / BAR_STEPS for i in range(BAR_STEPS)],
})
tick_df = pd.DataFrame({"t": CBAR_TICKS, "label": CBAR_LABELS})


def grid_frame(grid):
    rows = []
    for j, row in enumerate(grid):
        for i, v in enumerate(row):
            rows.append({"x": CELL_LEFT[i], "x2": CELL_LEFT[i] + 4, "y": ROW_BOTTOM[j], "y2": ROW_BOTTOM[j] + 4, "v": v})
    return pd.DataFrame(rows)


def panel(name, grid, w, h, top, lead, bar_gap, bar_w, specks=(), arc=None, streaks=None):
    xs = alt.Scale(domain=[1, 100], nice=False, zero=False)
    ys = alt.Scale(domain=[1, 100], nice=False, zero=False)
    axis_style = dict(values=AXIS_TICKS, titleFontSize=88, titleFontWeight="normal", titleColor=TEXT_COLOR,
                      titleFont=LABEL_FONT, labelFontSize=80, labelFont=LABEL_FONT, labelColor=TEXT_COLOR,
                      ticks=False, grid=False, domainColor=TEXT_COLOR, domainWidth=2, labelOverlap=False, labelFlush=False)
    xenc = alt.X("x:Q", scale=xs, axis=alt.Axis(title="X", titlePadding=24, labelPadding=45, **axis_style))
    yenc = alt.Y("y:Q", scale=ys, axis=alt.Axis(title="Y", titlePadding=24, labelPadding=24, **axis_style))
    col = alt.Color("v:Q", scale=color_scale, legend=None)
    stroke = alt.Stroke("v:Q", scale=color_scale, legend=None)

    inner = [alt.Chart(grid_frame(grid)).mark_rect(clip=True, strokeWidth=1.5).encode(
        x=xenc, x2="x2:Q", y=yenc, y2="y2:Q", color=col, stroke=stroke)]
    if arc is not None:
        ax, ay, glow_v, core_v, glow_w, core_w = arc
        arc_df = pd.DataFrame({"x": ax, "y": ay, "o": list(range(len(ax)))})
        inner.append(alt.Chart(arc_df.assign(v=glow_v)).mark_line(clip=True, strokeWidth=glow_w, strokeCap="butt", interpolate="monotone").encode(
            x="x:Q", y="y:Q", order="o:Q", color=col))
        inner.append(alt.Chart(arc_df.assign(v=core_v)).mark_line(clip=True, strokeWidth=core_w, strokeCap="butt", interpolate="monotone").encode(
            x="x:Q", y="y:Q", order="o:Q", color=col))
    if streaks is not None:
        sx, sx2, sy, sy2, sv = streaks
        inner.append(alt.Chart(pd.DataFrame({"x": sx, "x2": sx2, "y": sy, "y2": sy2, "v": sv})).mark_rect(clip=True, strokeWidth=0).encode(
            x="x:Q", x2="x2:Q", y="y:Q", y2="y2:Q", color=col))
    if specks:
        sp = pd.DataFrame([{"x": a, "x2": a + 1, "y": b, "y2": b + 1, "v": c} for a, b, c in specks])
        inner.append(alt.Chart(sp).mark_rect(clip=True, strokeWidth=0).encode(
            x="x:Q", x2="x2:Q", y="y:Q", y2="y2:Q", color=col))
    # title, and an invisible rule that fixes how far the panel's box reaches above the plot
    inner.append(alt.Chart(pd.DataFrame({"name": [name]})).mark_text(
        font=LABEL_FONT, fontSize=90, fontWeight="bold", color="#000000", align="center", baseline="alphabetic").encode(
        text="name:N", x=alt.value(w / 2), y=alt.value(-28)))
    inner.append(alt.Chart(pd.DataFrame({"k": [0]})).mark_rule(opacity=0).encode(
        x=alt.value(0), y=alt.value(-top), y2=alt.value(0)))

    left, right = w + bar_gap, w + bar_gap + bar_w
    by = alt.Y("lo:Q", scale=bar_scale, axis=None)
    bar = alt.Chart(bar_df).mark_rect(strokeWidth=1).encode(
        x=alt.value(left), x2=alt.value(right), y=by, y2="hi:Q", color=col, stroke=stroke)
    ty = alt.Y("t:Q", scale=bar_scale, axis=None)
    ticks = alt.Chart(tick_df).mark_rule(color=TEXT_COLOR, strokeWidth=2).encode(
        x=alt.value(right - 10), x2=alt.value(right), y=ty)
    labels = alt.Chart(tick_df).mark_text(font=LABEL_FONT, fontSize=72, color=TEXT_COLOR, align="left", baseline="middle").encode(
        text="label:N", x=alt.value(right + 22), y=ty)
    cbar = alt.layer(bar, ticks, labels)

    body = alt.layer(alt.layer(*inner), cbar).resolve_scale(y="independent").properties(width=w, height=h)
    # an empty strip above the panel gives it its own height within the row
    strip = alt.Chart(pd.DataFrame({"k": [0]})).mark_rule(opacity=0).encode(x=alt.value(0)).properties(width=1, height=lead)
    return alt.vconcat(strip, body, spacing=0)


p1 = panel("Gauss", GAUSS, 1116, 1016, 130, 6, 116, 88, specks=GAUSS_SPECKS)
p2 = panel("Optimal", OPTIMAL, 1115, 1030, 130, 1, 117, 89, specks=OPT_SPECKS,
           arc=(OPT_ARC_X, OPT_ARC_Y, -2.6, -3.3, 28, 10))
p3 = panel("5/6", FIVE_SIX, 1116, 1112, 120, 1, 116, 88, specks=FIVE_SPECKS,
           arc=(RIM_X, RIM_Y, -3.0, -3.4, 30, 13),
           streaks=(FIVE_STREAK_X, FIVE_STREAK_X2, FIVE_STREAK_Y, FIVE_STREAK_Y2, FIVE_STREAK_V))
p4 = panel("15/16", FIFTEEN_SIXTEEN, 1128, 1107, 120, 11, 117, 89)

row1 = alt.hconcat(p1, p2, spacing=223)
row2 = alt.hconcat(p3, p4, spacing=223)
chart = alt.vconcat(row1, row2, spacing=12).properties(
    padding={"left": 47, "top": 14, "right": 5, "bottom": 5}, background="white"
).configure_view(stroke=None)

chart.save("out.html", embed_options={"renderer": "svg", "actions": False})
